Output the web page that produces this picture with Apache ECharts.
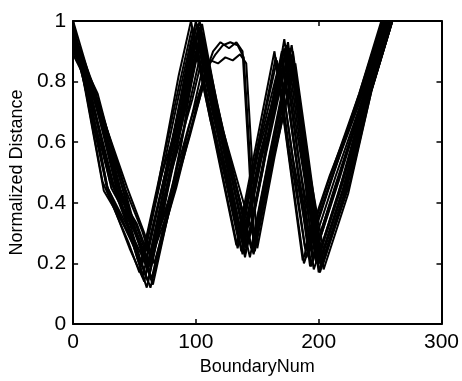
<!DOCTYPE html>
<html>
<head>
<meta charset="utf-8">
<script src="https://cdn.jsdelivr.net/npm/echarts@6/dist/echarts.min.js"></script>
<style>
  html, body { margin: 0; padding: 0; background: #fff; }
  #chart { width: 462px; height: 381px; }
</style>
</head>
<body>
<div id="chart"></div>
<script>
// Normalized distance per boundary point, one [BoundaryNum, distance] list per shape

// curves with three dips (most of the set)
const tripleDipCurves = [
  [[0,.99],[12,.78],[28,.44],[46,.25],[58,.14],[72,.41],[90,.80],[100,1.0],[112,.76],[137,.24],[151,.52],[170,.88],[180,.59],[193,.19],[213,.45],[237,.75],[255,1]],
  [[0,1],[16,.78],[36,.45],[52,.22],[60,.12],[74,.38],[93,.79],[103,.98],[115,.73],[140,.23],[154,.50],[172,.91],[182,.60],[196,.18],[216,.43],[239,.77],[257,1]],
  [[0,.97],[18,.77],[39,.44],[54,.27],[62,.17],[76,.42],[94,.76],[104,.95],[116,.71],[142,.26],[156,.55],[175,.93],[185,.63],[198,.20],[218,.46],[240,.75],[258,1]],
  [[0,.95],[11,.76],[27,.46],[46,.29],[56,.19],[70,.45],[88,.79],[98,.97],[110,.74],[135,.27],[149,.55],[168,.86],[178,.57],[190,.22],[210,.47],[234,.76],[252,1]],
  [[0,.93],[20,.76],[42,.42],[56,.24],[64,.15],[78,.40],[96,.75],[106,.93],[118,.69],[144,.22],[158,.51],[177,.89],[187,.58],[200,.17],[220,.42],[241,.76],[259,1]],
  [[0,.98],[14,.77],[31,.45],[51,.30],[59,.21],[73,.46],[91,.81],[101,.99],[113,.75],[138,.28],[152,.56],[171,.84],[181,.56],[194,.24],[214,.49],[238,.77],[256,1]],
  [[0,.92],[17,.74],[38,.44],[53,.27],[61,.18],[75,.43],[95,.77],[105,.96],[117,.72],[141,.25],[155,.54],[174,.92],[184,.62],[199,.21],[219,.46],[240,.77],[258,1]],
  [[0,.96],[13,.76],[29,.43],[49,.26],[57,.16],[71,.42],[89,.76],[99,.94],[111,.70],[136,.30],[150,.58],[166,.87],[176,.58],[189,.25],[209,.49],[235,.76],[253,1]],
  [[0,.90],[21,.73],[43,.44],[56,.31],[63,.22],[77,.46],[97,.74],[107,.91],[119,.68],[146,.24],[160,.53],[179,.90],[189,.60],[202,.19],[222,.44],[242,.76],[260,1]],
  [[0,.94],[15,.75],[33,.46],[52,.33],[60,.24],[74,.48],[92,.75],[102,.92],[114,.69],[139,.26],[153,.54],[173,.85],[183,.56],[197,.23],[217,.48],[238,.76],[256,1]],
  [[0,.99],[10,.77],[25,.44],[47,.29],[55,.20],[69,.46],[87,.80],[97,.98],[109,.74],[134,.25],[148,.54],[165,.88],[175,.58],[188,.20],[208,.45],[233,.76],[251,1]],
  [[0,.91],[19,.75],[41,.46],[57,.22],[65,.13],[79,.39],[98,.71],[108,.89],[120,.66],[147,.23],[161,.51],[181,.86],[191,.57],[204,.18],[224,.43],[243,.77],[260,1]],
  [[0,.96],[17,.76],[37,.45],[54,.28],[62,.19],[76,.45],[93,.81],[103,1.0],[115,.76],[143,.27],[157,.56],[176,.91],[186,.60],[195,.22],[215,.47],[239,.76],[257,1]],
  [[0,.93],[13,.74],[30,.47],[50,.34],[58,.25],[72,.49],[90,.73],[100,.90],[112,.67],[137,.29],[151,.57],[169,.83],[179,.55],[192,.26],[212,.50],[236,.76],[254,1]],
  [[0,.97],[16,.77],[35,.45],[53,.23],[61,.14],[75,.41],[94,.78],[104,.97],[116,.73],[140,.22],[154,.51],[172,.94],[182,.64],[201,.17],[221,.43],[241,.77],[259,1]],
  [[0,.89],[21,.72],[44,.45],[58,.30],[66,.20],[84,.45],[100,.71],[110,.87],[122,.64],[148,.27],[162,.55],[180,.84],[190,.56],[205,.22],[225,.46],[243,.77],[260,1]],
  [[0,1],[9,.80],[24,.47],[45,.27],[54,.17],[68,.43],[86,.82],[96,1],[108,.75],[133,.26],[147,.55],[164,.90],[174,.60],[187,.21],[207,.46],[233,.76],[252,1]],
  [[0,.94],[17,.76],[39,.43],[55,.21],[63,.12],[80,.40],[96,.79],[105,.99],[117,.73],[145,.25],[159,.54],[178,.92],[188,.61],[201,.20],[221,.45],[240,.76],[258,1]],
  [[0,.97],[13,.78],[32,.46],[51,.25],[59,.16],[73,.42],[91,.78],[101,.96],[113,.72],[138,.23],[152,.52],[170,.90],[180,.60],[194,.19],[214,.45],[237,.76],[255,1]]
];

// curves with a flat bumpy top between 110 and 140
const plateauCurves = [
  [[0,.95],[14,.75],[33,.45],[54,.27],[62,.20],[78,.38],[95,.62],[110,.85],[116,.89],[122,.92],[128,.93],[134,.92],[139,.88],[144,.55],[148,.24],[162,.53],[178,.88],[188,.58],[200,.20],[220,.45],[240,.77],[258,1]],
  [[0,.92],[19,.73],[41,.44],[53,.28],[61,.21],[80,.42],[97,.66],[112,.87],[118,.86],[124,.88],[130,.87],[136,.89],[141,.86],[146,.52],[150,.25],[164,.55],[180,.86],[190,.56],[203,.19],[223,.45],[242,.76],[260,1]],
  [[0,.98],[12,.77],[28,.45],[52,.26],[60,.19],[77,.40],[94,.65],[108,.83],[114,.90],[120,.93],[127,.91],[133,.93],[138,.90],[143,.56],[147,.25],[161,.54],[177,.89],[187,.59],[199,.21],[219,.46],[239,.76],[257,1]]
];

// axis ranges
const xRange = [0, 300];
const xStep = 100;
const yRange = [0, 1];
const yStep = 0.2;

function initBoundaryChart() {
    const chart = echarts.init(document.getElementById('chart'));
    const font = 'Liberation Sans, Arial, sans-serif';

    // shared look for the four sides of the box
    const boxSide = {
        axisLine: { show: true, onZero: false, lineStyle: { color: '#000', width: 2 } },
        axisTick: { show: true, inside: true, length: 5, lineStyle: { color: '#000', width: 1.5 } },
        splitLine: { show: false }
    };

    const allCurves = tripleDipCurves.concat(plateauCurves);

    const option = {
        animation: false,
        backgroundColor: '#fff',
        grid: { left: 70, right: 19, top: 21, bottom: 51 },
        xAxis: [
            Object.assign({
                type: 'value', position: 'bottom',
                min: xRange[0], max: xRange[1], interval: xStep,
                name: 'BoundaryNum', nameLocation: 'middle', nameGap: 34,
                nameTextStyle: { color: '#000', fontSize: 18, fontFamily: font },
                axisLabel: { color: '#000', fontSize: 21, fontFamily: font, margin: 8 }
            }, boxSide),
            Object.assign({
                type: 'value', position: 'top',
                min: xRange[0], max: xRange[1], interval: xStep,
                axisLabel: { show: false }
            }, boxSide)
        ],
        yAxis: [
            Object.assign({
                type: 'value', position: 'left',
                min: yRange[0], max: yRange[1], interval: yStep,
                name: 'Normalized Distance', nameLocation: 'middle', nameGap: 40,
                nameTextStyle: { color: '#000', fontSize: 18, fontFamily: font },
                axisLabel: { color: '#000', fontSize: 21, fontFamily: font, margin: 7 }
            }, boxSide),
            Object.assign({
                type: 'value', position: 'right',
                min: yRange[0], max: yRange[1], interval: yStep,
                axisLabel: { show: false }
            }, boxSide)
        ],
        series: allCurves.map(function (pts) {
            return {
                type: 'line',
                xAxisIndex: 0,
                yAxisIndex: 0,
                data: pts,
                showSymbol: false,
                silent: true,
                lineStyle: { color: '#000', width: 2 }
            };
        })
    };

    chart.setOption(option);
    return chart;
}

initBoundaryChart();
</script>
</body>
</html>
